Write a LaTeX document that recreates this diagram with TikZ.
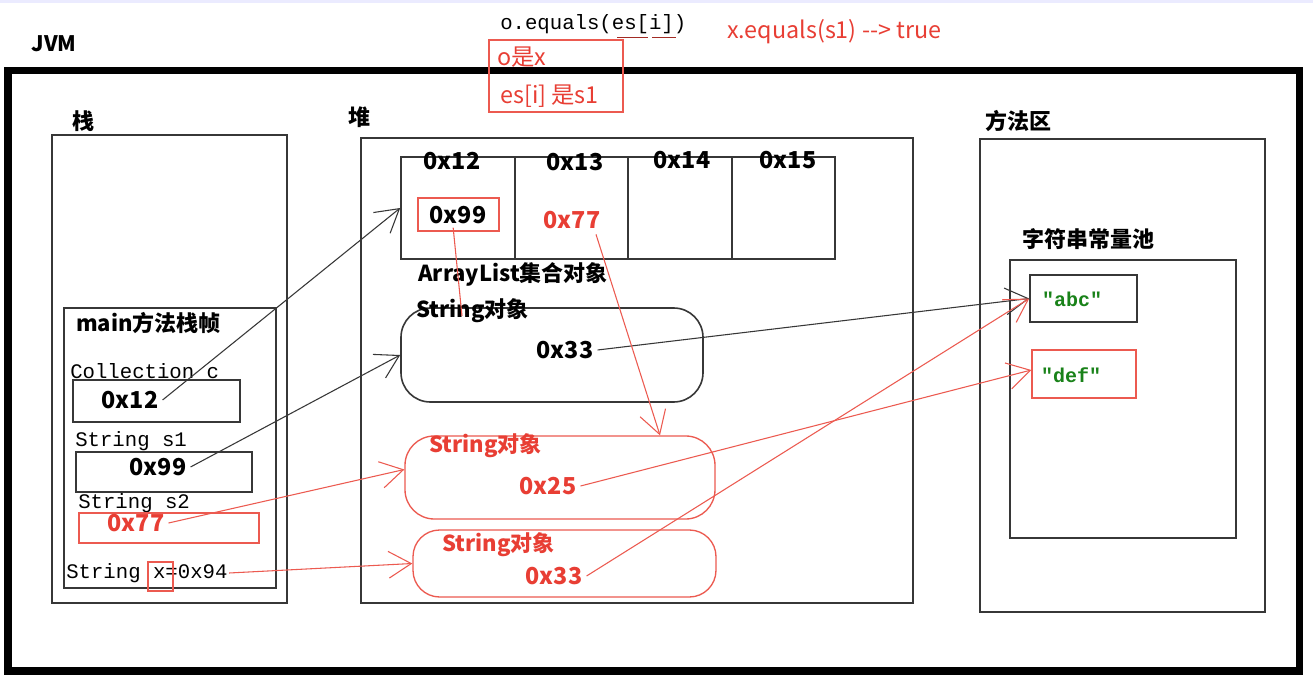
\documentclass[tikz,border=0pt]{standalone}
\usepackage{fontspec}
\setmainfont{Noto Sans CJK SC}
\setmonofont{Liberation Mono}
\usetikzlibrary{arrows.meta,fit}
\definecolor{rd}{RGB}{232,62,52}
\definecolor{rl}{RGB}{236,90,80}
\definecolor{gr}{RGB}{25,130,25}
\definecolor{ln}{RGB}{55,55,55}
\begin{document}
\begin{tikzpicture}[x=0.75pt,y=-0.75pt,
  box/.style={draw=ln,line width=1.2pt,inner sep=0pt},
  rbox/.style={draw=rl,line width=1pt,inner sep=0pt},
  lbl/.style={font=\fontsize{16.5}{18}\selectfont\bfseries,inner sep=0pt},
  hexl/.style={font=\fontsize{17.5}{19}\selectfont\bfseries,inner sep=0pt},
  mono/.style={font=\fontsize{15.5}{17}\ttfamily,inner sep=0pt},
  note/.style={font=\fontsize{17.5}{19}\selectfont,text=rd,inner sep=0pt},
  blk/.style={draw=ln,line width=0.8pt,-{Straight Barb[length=17pt,width=20pt,line width=0.8pt]}},
  red/.style={draw=rl,line width=0.8pt,-{Straight Barb[length=17pt,width=20pt,line width=0.8pt]}},
  redl/.style={draw=rl,line width=0.8pt}
]
\useasboundingbox (0,0) rectangle (1313,698);
\fill[white] (0,0) rectangle (1313,698);
\fill[blue!8] (0,0) rectangle (1313,3);

% JVM frame
\node[font=\fontsize{16}{18}\selectfont\bfseries,inner sep=0pt] (jvml) at (54,44) {JVM};
\node[draw=black,line width=5.6pt,inner sep=0pt,fit={(8,70.5) (1299.5,671)}] (jvm) {};

% top annotations
\node[font=\fontsize{15.5}{17}\ttfamily,inner sep=0pt,anchor=west] (eqt) at (500,24) {o.equals(es[i])};
\draw[rd!70!black,line width=0.6pt] (617,37) -- (648,37) (652,37) -- (676,37);
\node[rbox,fit={(489,40) (623,112)}] (notebox) {};
\node[note,anchor=west] (n1) at (497,57) {o是x};
\node[note,anchor=west] (n2) at (500,96) {es[i] 是s1};
\node[note,anchor=west] (n3) at (727,32) {x.equals(s1) -{}-> true};

% stack
\node[lbl,anchor=west] (stackl) at (72,121) {栈};
\node[box,fit={(52,135) (287,603)}] (stack) {};
\node[box,fit={(64,308) (276,588)}] (frame) {};
\node[lbl,anchor=west] (framel) at (76,323) {main方法栈帧};
\node[mono,anchor=west] (cl) at (70,371) {Collection c};
\node[box,fit={(73,380) (240,422)}] (cbox) {};
\node[hexl] (c12) at (130,400) {0x12};
\node[mono,anchor=west] (s1l) at (75,441) {String s1};
\node[box,fit={(76,452) (252,492)}] (s1box) {};
\node[hexl] (s199) at (158,467) {0x99};
\node[mono,anchor=west] (s2l) at (78,503) {String s2};
\node[rbox,fit={(79,513) (259,543)}] (s2box) {};
\node[hexl,text=rd] (s277) at (136,523) {0x77};
\node[mono,anchor=west] (xl) at (66,573) {String x=0x94};
\node[rbox,fit={(148,562) (173,591)}] (xbox) {};

% heap
\node[lbl,anchor=west] (heapl) at (348,117) {堆};
\node[box,fit={(361,138) (913,603)}] (heap) {};
\node[box,fit={(401,157) (835,259)}] (arr) {};
\draw[ln,line width=1.2pt] (515,157) -- (515,259) (628,157) -- (628,259) (732,157) -- (732,259);
\node[hexl] (h12) at (452,161) {0x12};
\node[hexl] (h13) at (575,162) {0x13};
\node[hexl] (h14) at (682,160) {0x14};
\node[hexl] (h15) at (788,160) {0x15};
\node[rbox,fit={(418,198) (499,231)}] (a99box) {};
\node[hexl] (a99) at (458,215) {0x99};
\node[hexl,text=rd] (a77) at (572,220) {0x77};
\node[lbl,anchor=west] (arrl) at (418,274) {ArrayList集合对象};
\node[box,rounded corners=22pt,fit={(401,308) (703,402)}] (str1) {};
\node[lbl,anchor=west] (str1l) at (416,311) {String对象};
\node[hexl] (str1v) at (565,350) {0x33};
\node[draw=rl,line width=1pt,inner sep=0pt,rounded corners=22pt,fit={(405,436) (715,519)}] (str2) {};
\node[lbl,text=rd,anchor=west] (str2l) at (429,446) {String对象};
\node[hexl,text=rd] (str2v) at (548,486) {0x25};
\node[draw=rl,line width=1pt,inner sep=0pt,rounded corners=20pt,fit={(413,530) (716,597)}] (str3) {};
\node[lbl,text=rd,anchor=west] (str3l) at (442,545) {String对象};
\node[hexl,text=rd] (str3v) at (554,576) {0x33};

% method area
\node[lbl,anchor=west] (mal) at (985,121) {方法区};
\node[box,fit={(980,139) (1265,612)}] (ma) {};
\node[lbl,anchor=west] (pooll) at (1022,239) {字符串常量池};
\node[box,fit={(1010,260) (1236,538)}] (pool) {};
\node[box,fit={(1030,275) (1137,322)}] (abc) {};
\node[font=\fontsize{15}{17}\ttfamily\bfseries,text=gr,inner sep=0pt] (abct) at (1072,299) {"abc"};
\node[rbox,fit={(1032,350) (1136,398)}] (def) {};
\node[font=\fontsize{15}{17}\ttfamily\bfseries,text=gr,inner sep=0pt] (deft) at (1071,375) {"def"};

% connectors
\coordinate (e1) at (462,316);
\draw[blk] ([xshift=3pt]c12.east) -- (arr.west);
\draw[blk] ([xshift=3pt]s199.east) -- (str1.west);
\draw[blk] ([xshift=3pt]str1v.east) -- (abc.west);
\draw[redl] ([xshift=-4pt,yshift=3pt]a99box.south) -- (e1);
\draw[red] ([xshift=18pt,yshift=-4pt]a77.south) -- ([xshift=75pt]str2.north);
\draw[red] ([xshift=3pt]s277.east) -- ([yshift=6pt]str2.west);
\draw[red] ([xshift=1pt]xl.east) -- (str3.west);
\draw[red] ([xshift=3pt]str2v.east) -- ([yshift=3pt]def.west);
\draw[red] ([xshift=3pt]str3v.east) -- (abc.west);
\end{tikzpicture}
\end{document}
